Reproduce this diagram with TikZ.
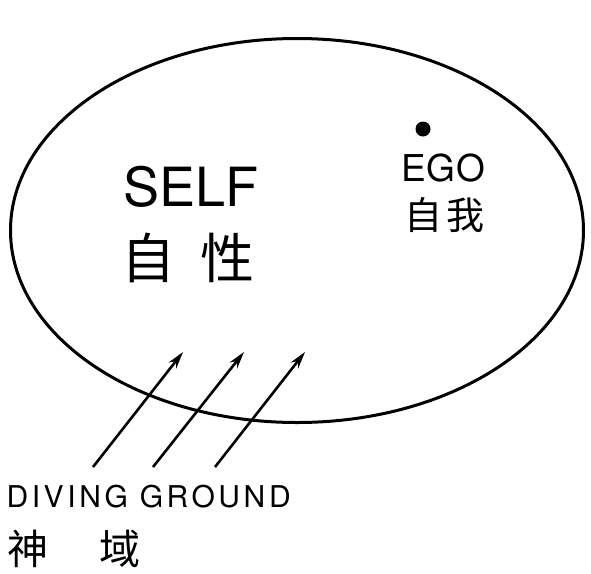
\documentclass[tikz,border=0pt]{standalone}
\usepackage{fontspec}
\setmainfont{TeX Gyre Heros}
\newfontfamily\cjk{Noto Sans CJK SC}
\usetikzlibrary{arrows.meta}
\tikzset{
  lbl/.style={inner sep=0pt, outer sep=0pt, text=black},
  ray/.style={line width=2.6pt, -{Stealth[length=17pt,width=9.5pt]}},
}
\begin{document}
\begin{tikzpicture}[x=1pt,y=-1pt]
\useasboundingbox (0,0) rectangle (591,573);
\draw[line width=3pt] (297,230.5) ellipse [x radius=286.5, y radius=192];
\fill (423,129) circle (7.5);
\node[lbl, anchor=base west] (self) at (123,206.5) {\fontsize{54}{54}\selectfont SELF};
\node[lbl] (selfzh) at (188,257.5) {\cjk\fontsize{54}{54}\selectfont 自\hspace{26pt}性};
\node[lbl, anchor=base west] (ego) at (401,181.5) {\fontsize{37}{37}\selectfont\addfontfeature{LetterSpace=3}EGO};
\node[lbl] (egozh) at (444.5,215) {\cjk\fontsize{38}{38}\selectfont 自\hspace{4pt}我};
\node[lbl, anchor=base west] (dg) at (6.5,507.5) {\fontsize{30}{30}\selectfont\addfontfeature{LetterSpace=12}DIVING GROUND};
\node[lbl] (dgzh) at (74,549) {\cjk\fontsize{41}{41}\selectfont 神\hspace{52pt}域};
\coordinate (s1) at (93,467); \coordinate (t1) at (183,352);
\coordinate (s2) at (153,467); \coordinate (t2) at (244,352);
\coordinate (s3) at (215,467); \coordinate (t3) at (305,352);
\draw[ray] (s1) -- (t1);
\draw[ray] (s2) -- (t2);
\draw[ray] (s3) -- (t3);
\end{tikzpicture}
\end{document}
